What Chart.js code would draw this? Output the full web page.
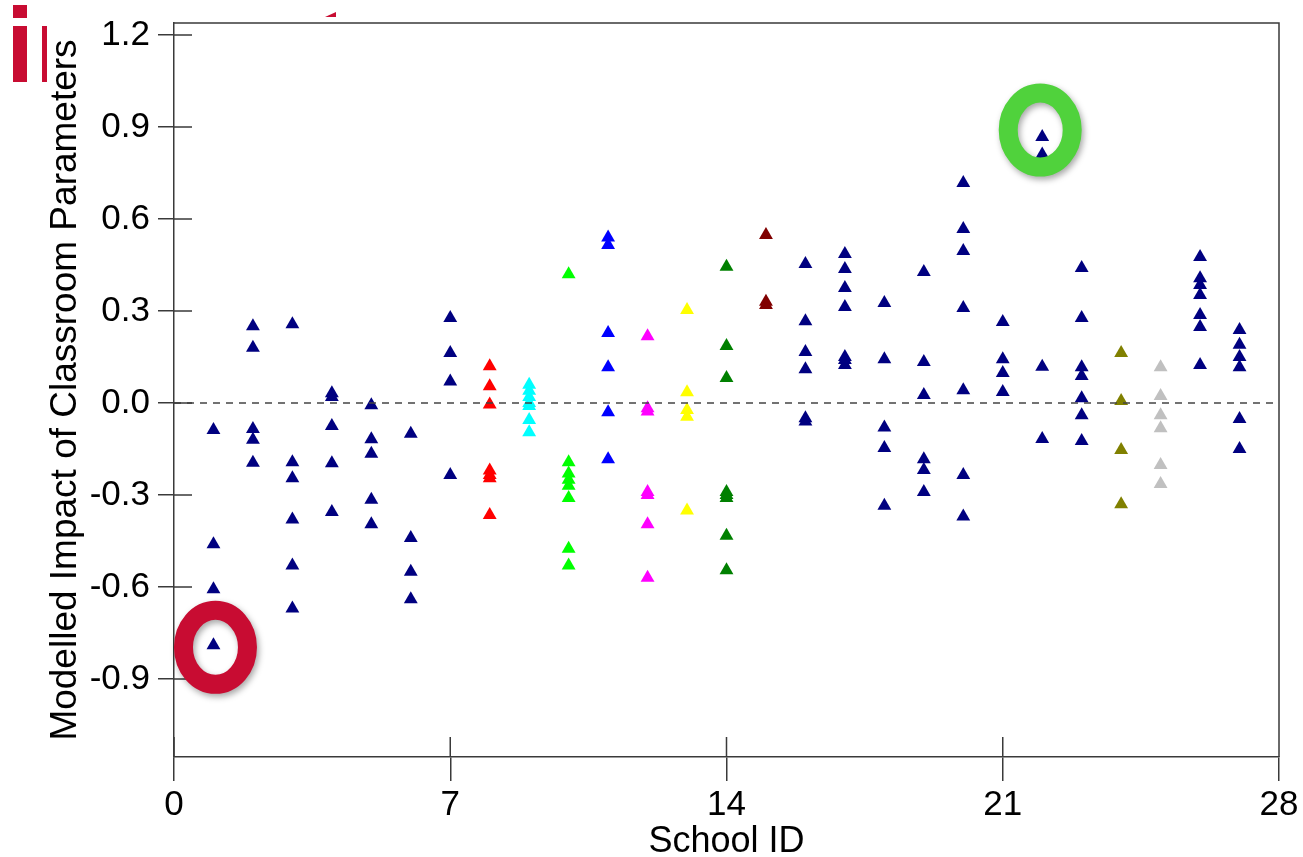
<!DOCTYPE html>
<html>
<head>
<meta charset="utf-8">
<script src="https://cdn.jsdelivr.net/npm/chart.js@4/dist/chart.umd.min.js"></script>
<style>
  html, body { margin: 0; padding: 0; background: #fff; }
  #wrap { position: relative; width: 1303px; height: 857px; }
  .logo { position: absolute; background: #c80c32; }
</style>
</head>
<body>
<div id="wrap">
  <canvas id="impactChart"></canvas>
  <div class="logo" style="left:13px;top:5px;width:14px;height:13px"></div>
  <div class="logo" style="left:13px;top:26px;width:14px;height:56px"></div>
  <div class="logo" style="left:42px;top:26px;width:5px;height:56px"></div>
  <div class="logo" style="left:325px;top:12px;width:11px;height:5px;clip-path:polygon(0 100%,100% 0,100% 100%)"></div>
</div>
<script>
// school ids on the x axis
const schoolIds = [1,2,3,4,5,6,7,8,9,10,11,12,13,14,15,16,17,18,19,20,21,22,23,24,25,26,27];

// modelled impact values per school
const impacts = [
  [-0.088, -0.46, -0.607, -0.79],
  [0.25, 0.18, -0.085, -0.12, -0.195],
  [0.257, -0.193, -0.245, -0.38, -0.53, -0.67],
  [0.032, 0.02, -0.075, -0.196, -0.355],
  [-0.007, -0.118, -0.165, -0.315, -0.395],
  [-0.1, -0.44, -0.55, -0.64],
  [0.277, 0.163, 0.07, -0.235],
  [0.12, 0.055, -0.005, -0.22, -0.235, -0.245, -0.365],
  [0.06, 0.04, 0.02, 0.0, -0.01, -0.055, -0.095],
  [0.42, -0.193, -0.23, -0.25, -0.27, -0.31, -0.475, -0.53],
  [0.54, 0.515, 0.228, 0.117, -0.03, -0.183],
  [0.218, -0.017, -0.028, -0.29, -0.3, -0.395, -0.57],
  [0.303, 0.035, -0.023, -0.045, -0.35],
  [0.444, 0.186, 0.082, -0.29, -0.3, -0.31, -0.433, -0.545],
  [0.548, 0.33, 0.32],
  [0.453, 0.267, 0.166, 0.11, -0.05, -0.06],
  [0.486, 0.437, 0.375, 0.313, 0.15, 0.14, 0.124],
  [0.326, 0.143, -0.08, -0.147, -0.335],
  [0.427, 0.134, 0.026, -0.183, -0.218, -0.29],
  [0.717, 0.567, 0.496, 0.31, 0.042, -0.235, -0.37],
  [0.264, 0.143, 0.098, 0.036],
  [0.867, 0.81, 0.118, -0.117],
  [0.44, 0.277, 0.117, 0.088, 0.016, -0.04, -0.124],
  [0.163, 0.007, -0.153, -0.33],
  [0.117, 0.023, -0.04, -0.082, -0.202, -0.264],
  [0.476, 0.407, 0.385, 0.352, 0.287, 0.248, 0.124],
  [0.238, 0.19, 0.15, 0.117, -0.052, -0.15]
];

// marker colour per school
const schoolColors = [
  '#000080','#000080','#000080','#000080','#000080','#000080','#000080',
  '#ff0000','#00ffff','#00ff00','#0000ff','#ff00ff','#ffff00','#008000',
  '#800000','#000080','#000080','#000080','#000080','#000080','#000080',
  '#000080','#000080','#808000','#c0c0c0','#000080','#000080'
];

const xTicks = [0, 7, 14, 21, 28];
const yTicks = [-0.9, -0.6, -0.3, 0.0, 0.3, 0.6, 0.9, 1.2];

// circled points: school id + index into that school's values
const highlights = [
  { school: 1, idx: 3, color: '#c80c32', dx: 2, dy: 2 },
  { school: 22, idx: 0, color: '#50d23c', dx: -2, dy: -7 }
];

const points = [];
const pointColors = [];
const lookup = {};
schoolIds.forEach((id, i) => {
  impacts[i].forEach((v, j) => {
    lookup[id + '_' + j] = points.length;
    points.push({ x: id, y: v });
    pointColors.push(schoolColors[i]);
  });
});

const axisColor = '#3a3a3a';
const fontFam = "'Liberation Sans', Arial, sans-serif";

// inner tick marks + top/right frame
const framePlugin = {
  id: 'frame',
  afterDraw(chart) {
    const { ctx, chartArea: a, scales: { x, y } } = chart;
    ctx.save();
    ctx.strokeStyle = axisColor;
    ctx.lineWidth = 1.5;
    ctx.beginPath();
    ctx.moveTo(a.left, a.top);
    ctx.lineTo(a.right, a.top);
    ctx.lineTo(a.right, a.bottom);
    yTicks.forEach(v => {
      const py = y.getPixelForValue(v);
      ctx.moveTo(a.left, py);
      ctx.lineTo(a.left + 18, py);
    });
    xTicks.forEach(v => {
      const px = x.getPixelForValue(v);
      ctx.moveTo(px, a.bottom);
      ctx.lineTo(px, a.bottom - 20);
    });
    ctx.stroke();
    ctx.restore();
  }
};

// the two rings around highlighted points
const ringPlugin = {
  id: 'rings',
  afterDraw(chart) {
    const { ctx } = chart;
    const meta = chart.getDatasetMeta(1);
    highlights.forEach(h => {
      const el = meta.data[lookup[h.school + '_' + h.idx]];
      ctx.save();
      ctx.shadowColor = 'rgba(0,0,0,0.35)';
      ctx.shadowBlur = 6;
      ctx.shadowOffsetX = 2;
      ctx.shadowOffsetY = 3;
      ctx.strokeStyle = h.color;
      ctx.lineWidth = 19;
      ctx.beginPath();
      ctx.ellipse(el.x + h.dx, el.y + h.dy, 32, 37, 0, 0, Math.PI * 2);
      ctx.stroke();
      ctx.restore();
    });
  }
};

const canvas = document.getElementById('impactChart');
const chart = new Chart(canvas, {
  data: {
    datasets: [{
      type: 'line',
      data: [{ x: 0, y: 0 }, { x: 28, y: 0 }],
      borderColor: '#444',
      borderWidth: 1.5,
      borderDash: [7, 6],
      pointRadius: 0,
      order: 0
    }, {
      type: 'scatter',
      data: points,
      pointStyle: 'triangle',
      pointRadius: 8,
      pointBorderWidth: 0,
      pointBackgroundColor: pointColors,
      pointBorderColor: pointColors,
      order: 1
    }]
  },
  options: {
    responsive: true,
    maintainAspectRatio: false,
    animation: false,
    layout: { padding: { left: 0, right: 24, top: 23, bottom: 0 } },
    plugins: { legend: { display: false }, tooltip: { enabled: false } },
    scales: {
      x: {
        type: 'linear',
        min: 0,
        max: 28,
        afterBuildTicks: s => { s.ticks = xTicks.map(v => ({ value: v })); },
        afterFit: s => { s.height = 100; s.paddingLeft = 0; s.paddingRight = 0; },
        grid: { display: true, drawOnChartArea: false, drawTicks: true, tickLength: 24, color: axisColor, lineWidth: 1.5 },
        border: { display: true, color: axisColor, width: 1.5 },
        ticks: { color: '#000', padding: 3, font: { family: fontFam, size: 35 }, maxRotation: 0, autoSkip: false },
        title: { display: true, text: 'School ID', color: '#000', padding: { top: 0, bottom: -3 }, font: { family: fontFam, size: 36, lineHeight: 1 } }
      },
      y: {
        type: 'linear',
        min: -1.154,
        max: 1.239,
        afterBuildTicks: s => { s.ticks = yTicks.map(v => ({ value: v })); },
        afterFit: s => { s.width = 174; s.paddingTop = 0; s.paddingBottom = 0; },
        grid: { display: true, drawOnChartArea: false, drawTicks: true, tickLength: 16, color: axisColor, lineWidth: 1.5 },
        border: { display: true, color: axisColor, width: 1.5 },
        ticks: { color: '#000', padding: 8, font: { family: fontFam, size: 35 }, callback: v => v.toFixed(1), autoSkip: false },
        title: { display: true, text: 'Modelled Impact of Classroom Parameters', color: '#000', padding: { top: 47, bottom: 0 }, font: { family: fontFam, size: 37, lineHeight: 1 } }
      }
    }
  },
  plugins: [framePlugin, ringPlugin]
});
</script>
</body>
</html>
